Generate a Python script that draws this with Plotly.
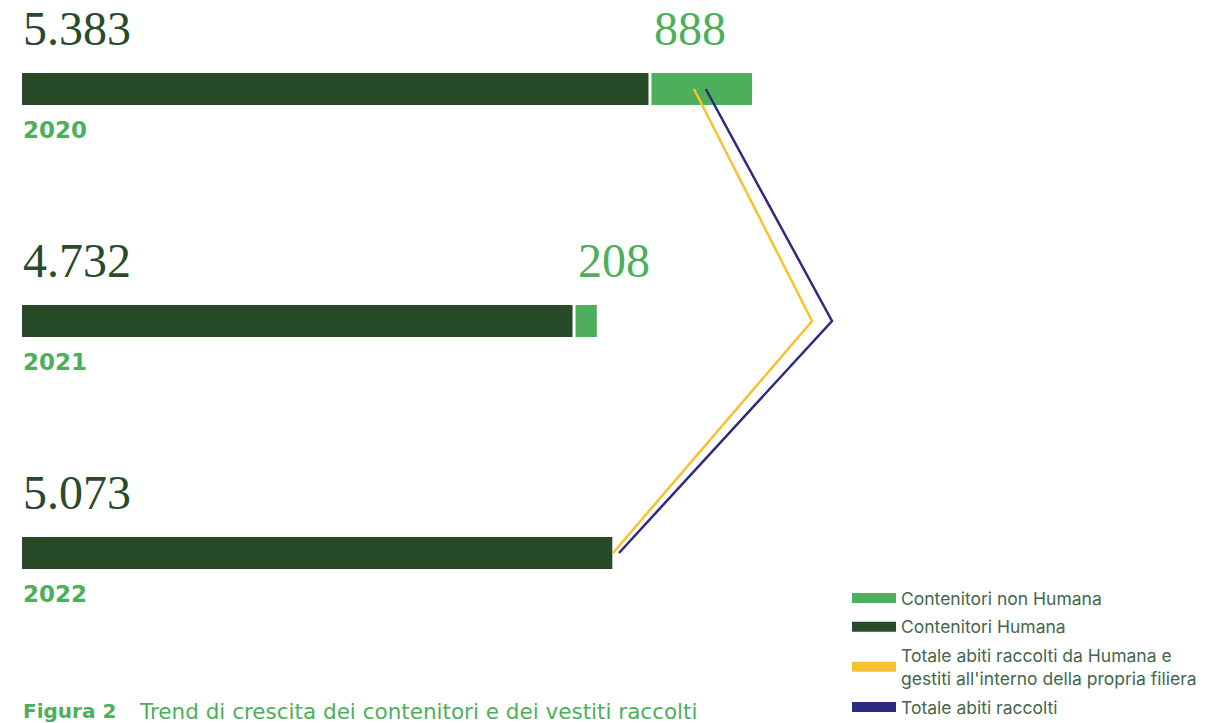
import plotly.graph_objects as go

years = ["2020", "2021", "2022"]
ypos = [2, 1, 0]
humana = [5383, 4732, 5073]
non_humana = [888, 208, 0]
humana_labels = ["5.383", "4.732", "5.073"]
non_humana_labels = ["888", "208", ""]
totale_filiera = [5760, 6772, 5066]
totale_raccolti = [5861, 6943, 5117]

DARK = "#274A29"
LIGHT = "#4DAF5B"
YELLOW = "#F8C12F"
BLUE = "#2E2A80"
LABEL_DARK = "#2A4A2C"
LEGEND_TXT = "#45664A"

W, H = 1206, 723
ML = 22
px_per_unit = 628 / 5383
xmax = (W - ML) / px_per_unit
ymin, ymax = -0.7328, 2.3836
bar_w = 32 / 232

fig = go.Figure()

fig.add_trace(go.Bar(
    y=ypos, x=humana, orientation="h", width=bar_w,
    marker=dict(color=DARK, line=dict(width=0)),
    showlegend=False, hoverinfo="skip"))

fig.add_trace(go.Bar(
    y=ypos, x=non_humana, base=humana, orientation="h", width=bar_w + 3 / 232,
    marker=dict(color=LIGHT, line=dict(color="white", width=3)),
    showlegend=False, hoverinfo="skip"))

fig.add_trace(go.Scatter(
    y=ypos, x=totale_filiera, mode="lines",
    line=dict(color=YELLOW, width=2.5), showlegend=False, hoverinfo="skip"))
fig.add_trace(go.Scatter(
    y=ypos, x=totale_raccolti, mode="lines",
    line=dict(color=BLUE, width=2.5), showlegend=False, hoverinfo="skip"))

legend_items = [
    ("Contenitori non Humana", LIGHT),
    ("Contenitori Humana", DARK),
    ("Totale abiti raccolti da Humana e<br>gestiti all'interno della propria filiera", YELLOW),
    ("Totale abiti raccolti", BLUE),
]
for i, (name, col) in enumerate(legend_items):
    fig.add_trace(go.Scatter(
        x=[None], y=[None], mode="lines", name=name, legendgroup=str(i),
        line=dict(color=col, width=10)))

annotations = []
for yv, hx, hl, nl, yr in zip(ypos, humana, humana_labels, non_humana_labels, years):
    annotations.append(dict(
        x=0, y=yv, xref="x", yref="y", text=hl, showarrow=False,
        xanchor="left", yanchor="middle", yshift=60, xshift=-1,
        font=dict(family="Liberation Serif", size=48, color=LABEL_DARK)))
    if nl:
        annotations.append(dict(
            x=hx, y=yv, xref="x", yref="y", text=nl, showarrow=False,
            xanchor="left", yanchor="middle", yshift=60, xshift=2,
            font=dict(family="Liberation Serif", size=48, color=LIGHT)))
    annotations.append(dict(
        x=0, y=yv, xref="x", yref="y", text="<b>" + yr + "</b>", showarrow=False,
        xanchor="left", yanchor="middle", yshift=-41, xshift=-1,
        font=dict(family="DejaVu Sans", size=23, color=LIGHT)))

annotations.append(dict(
    x=0, y=1 - 711 / H, xref="paper", yref="paper", text="<b>Figura 2</b>",
    showarrow=False, xanchor="left", yanchor="middle", xshift=-1,
    font=dict(family="DejaVu Sans", size=20, color=LIGHT)))
annotations.append(dict(
    x=(137 - ML) / (W - ML), y=1 - 711 / H, xref="paper", yref="paper",
    text="Trend di crescita dei contenitori e dei vestiti raccolti",
    showarrow=False, xanchor="left", yanchor="middle",
    font=dict(family="DejaVu Sans", size=21.5, color=LIGHT)))

fig.update_layout(
    width=W, height=H,
    margin=dict(l=ML, r=0, t=0, b=0, autoexpand=False),
    paper_bgcolor="white", plot_bgcolor="white",
    xaxis=dict(range=[0, xmax], visible=False, fixedrange=True),
    yaxis=dict(range=[ymin, ymax], visible=False, fixedrange=True),
    barmode="overlay",
    annotations=annotations,
    legend=dict(
        x=(847 - ML) / (W - ML), y=1 - 580 / H, xanchor="left", yanchor="top",
        font=dict(family="Inter", size=17.5, color=LEGEND_TXT),
        bgcolor="rgba(0,0,0,0)", tracegroupgap=3, itemwidth=44),
    showlegend=True,
)

fig.write_html(
    "out.html",
    config={"displayModeBar": False},
    post_script="document.body.style.margin='0';document.body.style.overflow='hidden';",
)
